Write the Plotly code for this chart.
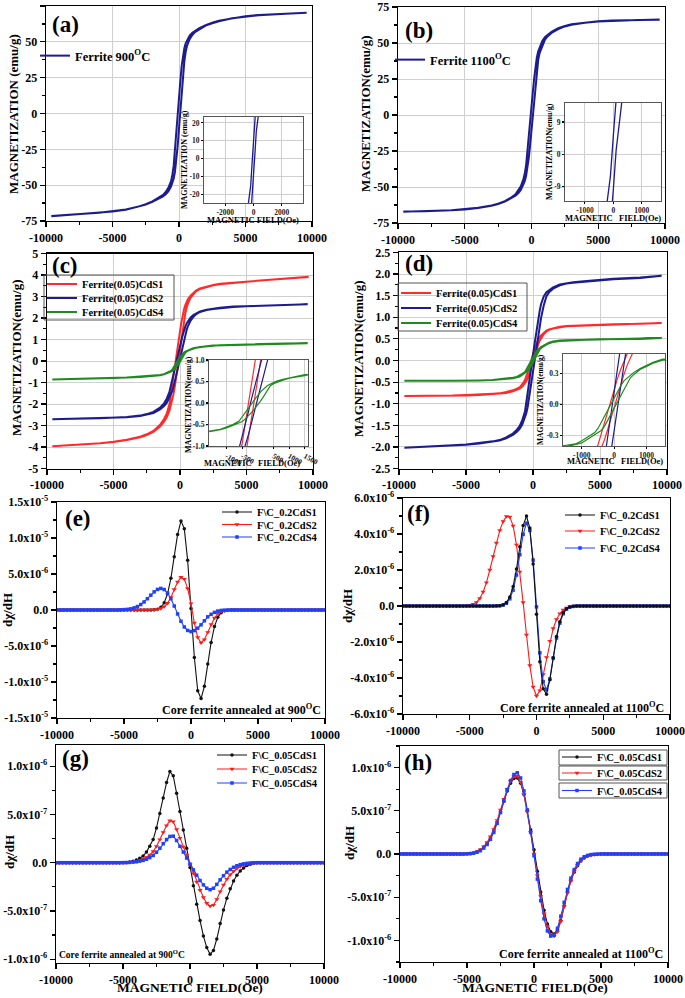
import plotly.graph_objects as go

FONT = "Liberation Serif"
FIG_W, FIG_H = 685, 998

# ---------------- hysteresis data (field in Oe, magnetization in emu/g) ----------------
H_LOOP = [-9600, -8000, -6000, -5000, -4000, -3000, -2500, -2000, -1500, -1200,
          -1000, -800, -600, -500, -400, -300, -200, -100, 0,
          100, 200, 300, 400, 500, 600, 800, 1000, 1200, 1500,
          2000, 2500, 3000, 4000, 5000, 6000, 8000, 9600]

# (a) Ferrite 900 C  (ascending / descending branch)
A_UP = [-71.6, -70.6, -69.3, -68.4, -67.1, -65.1, -63.6, -61.7, -59.4, -57.8,
        -56.4, -54.3, -51.0, -48.9, -45.6, -40.6, -33.0, -22.6, -10.5,
        2.6, 15.4, 27.0, 36.4, 42.9, 47.1, 51.8, 54.8, 56.8, 58.6,
        61.3, 63.0, 64.4, 66.4, 67.7, 68.6, 69.6, 70.2]
A_DN = [-71.5, -70.5, -69.2, -68.3, -66.9, -64.8, -63.2, -61.3, -58.6, -56.8,
        -54.8, -51.8, -47.1, -42.9, -36.4, -27.0, -15.4, -2.6, 10.5,
        22.6, 33.0, 40.6, 45.6, 48.9, 51.0, 54.3, 56.4, 57.8, 59.4,
        61.7, 63.4, 64.8, 66.6, 67.9, 68.8, 69.8, 70.3]
# (b) Ferrite 1100 C
B_UP = [-67.2, -66.9, -66.2, -65.6, -64.6, -63.0, -61.9, -60.2, -57.9, -56.1,
        -54.4, -52.0, -48.0, -45.8, -42.1, -36.9, -29.6, -20.5, -10.0,
        1.1, 12.0, 22.4, 31.2, 38.0, 42.8, 48.2, 52.2, 54.6, 57.0,
        59.6, 61.5, 62.7, 64.1, 64.9, 65.4, 65.9, 66.2]
B_DN = [-67.1, -66.8, -66.1, -65.5, -64.4, -62.8, -61.6, -59.8, -57.2, -55.1,
        -52.8, -49.5, -44.3, -40.5, -34.4, -26.5, -17.0, -6.0, 5.0,
        16.0, 25.5, 33.7, 40.0, 44.0, 47.0, 51.3, 54.0, 55.8, 57.8,
        60.3, 61.9, 63.0, 64.3, 65.1, 65.6, 66.0, 66.3]
# (c) Ferrite(0.05)CdS1 / CdS2 / CdS4, core 900 C
C1_UP = [-3.97, -3.92, -3.83, -3.77, -3.68, -3.55, -3.45, -3.30, -3.05, -2.82,
         -2.62, -2.32, -1.88, -1.56, -1.22, -0.80, -0.33, 0.14, 0.60,
         1.07, 1.50, 1.90, 2.22, 2.48, 2.68, 2.95, 3.12, 3.24, 3.35,
         3.45, 3.52, 3.57, 3.64, 3.69, 3.74, 3.82, 3.90]
C1_DN = [-3.96, -3.91, -3.82, -3.76, -3.66, -3.52, -3.41, -3.25, -2.97, -2.70,
         -2.45, -2.02, -1.38, -0.94, -0.47, 0.00, 0.47, 0.94, 1.38,
         1.78, 2.12, 2.40, 2.60, 2.76, 2.88, 3.04, 3.18, 3.28, 3.38,
         3.47, 3.54, 3.59, 3.66, 3.71, 3.76, 3.84, 3.92]
C2_UP = [-2.71, -2.69, -2.67, -2.65, -2.62, -2.56, -2.50, -2.42, -2.25, -2.10,
         -1.95, -1.72, -1.42, -1.22, -1.00, -0.73, -0.45, -0.16, 0.13,
         0.42, 0.70, 0.97, 1.22, 1.44, 1.62, 1.88, 2.05, 2.17, 2.28,
         2.37, 2.42, 2.46, 2.51, 2.55, 2.57, 2.60, 2.63]
C2_DN = [-2.71, -2.69, -2.66, -2.64, -2.61, -2.54, -2.47, -2.37, -2.17, -1.97,
         -1.75, -1.45, -1.05, -0.78, -0.50, -0.20, 0.10, 0.40, 0.68,
         0.95, 1.20, 1.42, 1.60, 1.75, 1.87, 2.03, 2.14, 2.22, 2.31,
         2.39, 2.44, 2.48, 2.53, 2.56, 2.58, 2.61, 2.64]
C4_UP = [-0.86, -0.84, -0.81, -0.79, -0.77, -0.74, -0.72, -0.69, -0.66, -0.62,
         -0.58, -0.52, -0.47, -0.43, -0.37, -0.30, -0.22, -0.13, -0.04,
         0.06, 0.17, 0.29, 0.40, 0.45, 0.48, 0.53, 0.58, 0.61, 0.65,
         0.69, 0.71, 0.73, 0.76, 0.78, 0.79, 0.81, 0.83]
C4_DN = [-0.86, -0.84, -0.81, -0.79, -0.77, -0.74, -0.71, -0.68, -0.65, -0.61,
         -0.56, -0.50, -0.42, -0.33, -0.23, -0.12, -0.02, 0.08, 0.18,
         0.27, 0.34, 0.40, 0.44, 0.48, 0.51, 0.55, 0.59, 0.62, 0.66,
         0.69, 0.72, 0.74, 0.76, 0.78, 0.79, 0.81, 0.83]
# (d) Ferrite(0.05)CdS1 / CdS2 / CdS4, core 1100 C
D1_UP = [-0.82, -0.82, -0.81, -0.81, -0.80, -0.78, -0.77, -0.75, -0.71, -0.68,
         -0.65, -0.60, -0.53, -0.48, -0.42, -0.34, -0.24, -0.13, -0.02,
         0.08, 0.19, 0.29, 0.38, 0.46, 0.52, 0.61, 0.67, 0.71, 0.74,
         0.77, 0.79, 0.80, 0.81, 0.82, 0.83, 0.84, 0.86]
D1_DN = [-0.82, -0.82, -0.81, -0.80, -0.79, -0.77, -0.76, -0.73, -0.69, -0.65,
         -0.62, -0.55, -0.45, -0.39, -0.29, -0.18, -0.07, 0.04, 0.14,
         0.25, 0.34, 0.42, 0.49, 0.54, 0.58, 0.64, 0.69, 0.72, 0.75,
         0.78, 0.80, 0.81, 0.82, 0.83, 0.84, 0.85, 0.87]
D2_UP = [-2.02, -2.00, -1.97, -1.95, -1.92, -1.88, -1.85, -1.80, -1.72, -1.65,
         -1.58, -1.48, -1.33, -1.22, -1.08, -0.88, -0.67, -0.45, -0.24,
         -0.02, 0.19, 0.40, 0.60, 0.80, 0.98, 1.27, 1.48, 1.58, 1.66,
         1.74, 1.78, 1.80, 1.83, 1.86, 1.88, 1.91, 1.95]
D2_DN = [-2.02, -2.00, -1.96, -1.94, -1.91, -1.87, -1.84, -1.78, -1.69, -1.60,
         -1.52, -1.38, -1.18, -1.00, -0.76, -0.53, -0.31, -0.09, 0.13,
         0.35, 0.56, 0.77, 0.97, 1.15, 1.30, 1.48, 1.58, 1.63, 1.69,
         1.76, 1.79, 1.81, 1.84, 1.87, 1.89, 1.92, 1.96]
D4_UP = [-0.47, -0.47, -0.47, -0.47, -0.46, -0.45, -0.44, -0.43, -0.41, -0.39,
         -0.37, -0.33, -0.29, -0.27, -0.25, -0.21, -0.15, -0.09, -0.03,
         0.03, 0.09, 0.15, 0.21, 0.26, 0.29, 0.34, 0.37, 0.40, 0.43,
         0.45, 0.46, 0.47, 0.48, 0.49, 0.49, 0.50, 0.52]
D4_DN = [-0.47, -0.47, -0.47, -0.47, -0.46, -0.45, -0.44, -0.42, -0.40, -0.38,
         -0.35, -0.31, -0.27, -0.23, -0.18, -0.12, -0.06, 0.00, 0.06,
         0.12, 0.18, 0.23, 0.26, 0.28, 0.31, 0.35, 0.38, 0.41, 0.44,
         0.46, 0.47, 0.48, 0.49, 0.49, 0.50, 0.51, 0.52]

# ---------------- d(chi)/dH data ----------------
H_DERIV = list(range(-5500, 5501, 250))      # active window, 45 points
H_TAIL_L = list(range(-10000, -5500, 250))   # flat baseline (value 0)
H_TAIL_R = list(range(5750, 10001, 250))

# (e) F\C_0.2CdS1/2/4, core 900 C  (units 1e-6)
E_S1 = [0, 0, 0, 0, 0, 0, 0, 0, 0, 0,
        0.01, 0.04, 0.12, 0.38, 1.0, 2.25, 4.4, 7.4, 10.5, 12.35, 11.3, 6.9, 0.2,
        -6.6, -11.2, -12.3, -10.6, -7.5, -4.5, -2.3, -1.0, -0.38, -0.12, -0.04, -0.01,
        0, 0, 0, 0, 0, 0, 0, 0, 0, 0]
E_S2 = [0, 0, 0, 0, 0, 0, 0, 0, 0, 0.01,
        0.02, 0.05, 0.1, 0.22, 0.48, 0.95, 1.75, 2.85, 3.9, 4.55, 4.3, 3.0, 0.9,
        -1.8, -3.8, -4.55, -4.1, -3.1, -2.0, -1.1, -0.5, -0.2, -0.07, -0.02, 0.0,
        0, 0, 0, 0, 0, 0, 0, 0, 0, 0]
E_S4 = [0.0, 0.02, 0.05, 0.09, 0.16, 0.29, 0.48, 0.76, 1.12, 1.57,
        2.06, 2.52, 2.86, 3.0, 2.84, 2.36, 1.56, 0.55, -0.55, -1.56, -2.36, -2.84, -3.0,
        -2.86, -2.52, -2.06, -1.5, -0.95, -0.6, -0.33, -0.15, -0.06, -0.02, 0.0, 0.0,
        0, 0, 0, 0, 0, 0, 0, 0, 0, 0]
# (f) F\C_0.2CdS1/2/4, core 1100 C  (units 1e-6)
F_S1 = [0, 0, 0, 0, 0, 0, 0, 0, 0, 0,
        0.01, 0.02, 0.07, 0.2, 0.5, 1.09, 2.05, 3.29, 4.47, 5.0, 4.33, 2.34, -0.46,
        -3.1, -4.6, -4.9, -4.1, -2.87, -1.7, -0.87, -0.38, -0.15, -0.05, -0.02, 0.0,
        0, 0, 0, 0, 0, 0, 0, 0, 0, 0]
F_S2 = [0.0, 0.02, 0.05, 0.1, 0.2, 0.42, 0.78, 1.3, 2.0, 2.75,
        3.5, 4.2, 4.7, 4.98, 4.95, 4.45, 3.4, 1.9, 0.2, -1.6, -3.3, -4.5, -5.0,
        -4.7, -3.8, -2.85, -1.95, -1.25, -0.75, -0.42, -0.22, -0.1, -0.04, -0.015, 0.0,
        0, 0, 0, 0, 0, 0, 0, 0, 0, 0]
F_S4 = [0, 0, 0, 0, 0, 0, 0, 0, 0, 0,
        0.0, 0.015, 0.05, 0.15, 0.4, 0.88, 1.72, 2.85, 3.98, 4.6, 4.2, 2.55, -0.05,
        -2.6, -4.2, -4.65, -4.05, -2.9, -1.78, -0.95, -0.43, -0.17, -0.06, -0.02, 0.0,
        0, 0, 0, 0, 0, 0, 0, 0, 0, 0]
# (g) F\C_0.05CdS1/2/4, core 900 C  (units 1e-7)
G_S1 = [0.0, 0.0, 0.01, 0.03, 0.08, 0.15, 0.28, 0.45, 0.7, 1.1,
        1.7, 2.4, 3.6, 5.1, 6.7, 8.3, 9.45, 9.0, 7.2, 5.3, 3.4, 1.5, -0.5,
        -2.4, -4.3, -6.0, -7.6, -8.8, -9.5, -9.1, -7.9, -6.3, -4.9, -3.7, -2.7,
        -1.9, -1.3, -0.85, -0.55, -0.3, -0.15, -0.06, -0.02, 0.0, 0.0]
G_S2 = [0.0, 0.0, 0.0, 0.02, 0.05, 0.09, 0.15, 0.24, 0.36, 0.55,
        0.82, 1.17, 1.7, 2.4, 3.15, 3.85, 4.35, 4.25, 3.45, 2.55, 1.65, 0.75, -0.2,
        -1.1, -2.0, -2.85, -3.6, -4.2, -4.5, -4.4, -3.8, -3.0, -2.3, -1.7, -1.25,
        -0.88, -0.6, -0.4, -0.25, -0.14, -0.07, -0.03, -0.01, 0.0, 0.0]
G_S4 = [0.0, 0.0, 0.0, 0.01, 0.03, 0.06, 0.1, 0.16, 0.24, 0.36,
        0.53, 0.75, 1.08, 1.5, 1.97, 2.4, 2.72, 2.75, 2.3, 1.7, 1.1, 0.48, -0.15,
        -0.75, -1.3, -1.85, -2.3, -2.65, -2.8, -2.65, -2.25, -1.78, -1.35, -0.98, -0.7,
        -0.48, -0.32, -0.2, -0.12, -0.07, -0.03, -0.01, 0.0, 0.0, 0.0]
# (h) F\C_0.05CdS1/2/4, core 1100 C  (units 1e-7)
H_S1 = [0.0, 0.01, 0.03, 0.06, 0.12, 0.25, 0.45, 0.8, 1.25, 1.85,
        2.7, 3.7, 4.9, 6.1, 7.3, 8.2, 8.75, 8.8, 8.2, 6.9, 5.0, 2.8, 0.5,
        -2.0, -4.4, -6.5, -8.1, -9.0, -9.25, -8.8, -7.7, -6.0, -4.4, -3.1, -2.1,
        -1.35, -0.8, -0.45, -0.24, -0.12, -0.05, -0.02, 0.0, 0.0, 0.0]
H_S2 = [0.0, 0.01, 0.03, 0.07, 0.14, 0.28, 0.5, 0.85, 1.35, 2.0,
        2.85, 3.9, 5.1, 6.35, 7.5, 8.4, 8.95, 9.0, 8.3, 6.9, 4.9, 2.5, 0.0,
        -2.5, -4.9, -6.9, -8.4, -9.3, -9.5, -9.0, -7.8, -6.1, -4.5, -3.1, -2.05,
        -1.3, -0.78, -0.44, -0.24, -0.11, -0.05, -0.02, 0.0, 0.0, 0.0]
H_S4 = [0.0, 0.0, 0.02, 0.05, 0.1, 0.2, 0.38, 0.68, 1.1, 1.7,
        2.5, 3.55, 4.8, 6.15, 7.45, 8.5, 9.2, 9.4, 8.8, 7.3, 5.1, 2.5, -0.2,
        -2.9, -5.4, -7.5, -8.9, -9.5, -9.4, -8.6, -7.2, -5.6, -4.1, -2.8, -1.8,
        -1.1, -0.6, -0.32, -0.16, -0.07, -0.03, -0.01, 0.0, 0.0, 0.0]

# ---------------- tick labels ----------------
X_TICKS = [-10000, -5000, 0, 5000, 10000]
X_LABELS = ["-10000", "-5000", "0", "5000", "10000"]
AB_TICKS = [-75, -50, -25, 0, 25, 50, 75]
AB_LABELS = ["-75", "-50", "-25", "0", "25", "50", "75"]
C_TICKS = [-5, -4, -3, -2, -1, 0, 1, 2, 3, 4, 5]
C_LABELS = ["-5", "-4", "-3", "-2", "-1", "0", "1", "2", "3", "4", "5"]
D_TICKS = [-2.5, -2.0, -1.5, -1.0, -0.5, 0.0, 0.5, 1.0, 1.5, 2.0, 2.5]
D_LABELS = ["-2.5", "-2.0", "-1.5", "-1.0", "-0.5", "0.0", "0.5", "1.0", "1.5", "2.0", "2.5"]
E_TICKS = [-1.5e-5, -1e-5, -5e-6, 0, 5e-6, 1e-5, 1.5e-5]
E_LABELS = ["-1.5x10<sup>-5</sup>", "-1.0x10<sup>-5</sup>", "-5.0x10<sup>-6</sup>", "0.0",
            "5.0x10<sup>-6</sup>", "1.0x10<sup>-5</sup>", "1.5x10<sup>-5</sup>"]
F_TICKS = [-6e-6, -4e-6, -2e-6, 0, 2e-6, 4e-6, 6e-6]
F_LABELS = ["-6.0x10<sup>-6</sup>", "-4.0x10<sup>-6</sup>", "-2.0x10<sup>-6</sup>", "0.0",
            "2.0x10<sup>-6</sup>", "4.0x10<sup>-6</sup>", "6.0x10<sup>-6</sup>"]
GH_TICKS = [-1e-6, -5e-7, 0, 5e-7, 1e-6]
GH_LABELS = ["-1.0x10<sup>-6</sup>", "-5.0x10<sup>-7</sup>", "0.0",
             "5.0x10<sup>-7</sup>", "1.0x10<sup>-6</sup>"]
INS_A_X = ([-2000, 0, 2000], ["-2000", "0", "2000"])
INS_A_Y = ([-20, -10, 0, 10, 20], ["-20", "-10", "0", "10", "20"])
INS_B_X = ([-1000, 0, 1000], ["-1000", "0", "1000"])
INS_B_Y = ([-9, 0, 9], ["-9", "0", "9"])
INS_C_X = ([-1000, -500, 500, 1000, 1500], ["-1000", "-500", "500", "1000", "1500"])
INS_C_Y = ([-1.0, -0.5, 0.0, 0.5, 1.0], ["-1.0", "-0.5", "0.0", "0.5", "1.0"])
INS_D_X = ([-1000, 0, 1000], ["-1000", "0", "1000"])
INS_D_Y = ([-0.3, 0.0, 0.3], ["-0.3", "0.0", "0.3"])

NAVY = "#1c1c8f"
RED = "#ff2a2a"
GREEN = "#1f8a1f"
BLK = "#111111"
DRED = "#ff1a1a"
DBLUE = "#2040ff"

# ---------------- helpers ----------------
def loop(up, dn):
    return H_LOOP + H_LOOP[::-1], up + dn[::-1]


def deriv(vals, scale):
    x = H_TAIL_L + H_DERIV + H_TAIL_R
    y = [0.0] * len(H_TAIL_L) + [v * scale for v in vals] + [0.0] * len(H_TAIL_R)
    return x, y


def fx(p):
    return p / FIG_W


def fy(p):
    return 1 - p / FIG_H


# axis index: (left, right, top, bottom) in pixels
GEOM = {
    1: (46, 312, 6, 221),
    2: (398, 665, 7, 223),
    3: (47, 313, 253.5, 468.5),
    4: (399, 667, 252.4, 468.6),
    5: (57, 325, 502, 718),
    6: (403, 670, 498, 714),
    7: (56, 324, 745, 963),
    8: (400, 668, 746, 962),
    9: (204, 303, 117, 203),
    10: (565, 661, 103, 201),
    11: (209, 308, 360, 446),
    12: (563, 665, 354, 446),
}

fig = go.Figure()
LEGENDS = {}


def new_legend(xp, yp, size):
    key = "legend" if not LEGENDS else f"legend{len(LEGENDS) + 1}"
    LEGENDS[key] = dict(x=fx(xp), y=fy(yp), xref="paper", yref="paper",
                        xanchor="left", yanchor="middle",
                        font=dict(family=FONT, size=size, color="black", weight="bold"),
                        bgcolor="rgba(0,0,0,0)", borderwidth=0, itemwidth=30)
    return key


def ax_names(i):
    return ("x" if i == 1 else f"x{i}"), ("y" if i == 1 else f"y{i}")


def add_loop(i, up, dn, color, name=None, leg=None, width=2.0):
    xa, ya = ax_names(i)
    x, y = loop(up, dn)
    kw = dict(legend=new_legend(*leg)) if name is not None else {}
    fig.add_trace(go.Scatter(x=x, y=y, mode="lines", xaxis=xa, yaxis=ya,
                             line=dict(color=color, width=width),
                             name=name or "", showlegend=name is not None,
                             hoverinfo="skip", **kw))


def add_deriv(i, vals, scale, color, symbol, name, leg, msize=3.5):
    xa, ya = ax_names(i)
    x, y = deriv(vals, scale)
    fig.add_trace(go.Scatter(x=x, y=y, mode="lines+markers", xaxis=xa, yaxis=ya,
                             line=dict(color=color, width=1.1),
                             marker=dict(color=color, symbol=symbol, size=msize),
                             name=name, showlegend=True, legend=new_legend(*leg),
                             hoverinfo="skip"))


SUP_900 = "900<sup>O</sup>C"
SUP_1100 = "1100<sup>O</sup>C"

# (a), (b)
add_loop(1, A_UP, A_DN, NAVY, "Ferrite " + SUP_900, (35, 56, 12.5))
add_loop(2, B_UP, B_DN, NAVY, "Ferrite " + SUP_1100, (390, 60, 12.5))
# (c)
add_loop(3, C1_UP, C1_DN, RED, "Ferrite(0.05)CdS1", (42, 284, 10.5))
add_loop(3, C2_UP, C2_DN, NAVY, "Ferrite(0.05)CdS2", (42, 298, 10.5))
add_loop(3, C4_UP, C4_DN, GREEN, "Ferrite(0.05)CdS4", (42, 312, 10.5))
# (d)
add_loop(4, D1_UP, D1_DN, RED, "Ferrite(0.05)CdS1", (396, 293, 10.5))
add_loop(4, D2_UP, D2_DN, NAVY, "Ferrite(0.05)CdS2", (396, 308, 10.5))
add_loop(4, D4_UP, D4_DN, GREEN, "Ferrite(0.05)CdS4", (396, 323, 10.5))
# insets
add_loop(9, A_UP, A_DN, NAVY, width=1.3)
add_loop(10, B_UP, B_DN, NAVY, width=1.3)
add_loop(11, C1_UP, C1_DN, RED, width=1.2)
add_loop(11, C2_UP, C2_DN, NAVY, width=1.2)
add_loop(11, C4_UP, C4_DN, GREEN, width=1.2)
add_loop(12, D1_UP, D1_DN, RED, width=1.2)
add_loop(12, D2_UP, D2_DN, NAVY, width=1.2)
add_loop(12, D4_UP, D4_DN, GREEN, width=1.2)

# derivative panels
add_deriv(5, E_S1, 1e-6, BLK, "circle", "F\\C_0.2CdS1", (217, 512, 10.5))
add_deriv(5, E_S2, 1e-6, DRED, "triangle-down", "F\\C_0.2CdS2", (217, 524.5, 10.5), 4.5)
add_deriv(5, E_S4, 1e-6, DBLUE, "square", "F\\C_0.2CdS4", (217, 537, 10.5))
add_deriv(6, F_S2, 1e-6, DRED, "triangle-down", "F\\C_0.2CdS2", (560, 531, 10.5), 4.5)
add_deriv(6, F_S4, 1e-6, DBLUE, "square", "F\\C_0.2CdS4", (560, 548, 10.5))
add_deriv(6, F_S1, 1e-6, BLK, "circle", "F\\C_0.2CdS1", (560, 515, 10.5))
add_deriv(7, G_S1, 1e-7, BLK, "circle", "F\\C_0.05CdS1", (212, 755, 10.5))
add_deriv(7, G_S2, 1e-7, DRED, "triangle-down", "F\\C_0.05CdS2", (212, 769, 10.5), 4.5)
add_deriv(7, G_S4, 1e-7, DBLUE, "square", "F\\C_0.05CdS4", (212, 783, 10.5))
add_deriv(8, H_S1, 1e-7, BLK, "circle", "F\\C_0.05CdS1", (557, 757, 10.5))
add_deriv(8, H_S2, 1e-7, DRED, "triangle-down", "F\\C_0.05CdS2", (557, 773, 10.5), 4.5)
add_deriv(8, H_S4, 1e-7, DBLUE, "square", "F\\C_0.05CdS4", (557, 790.5, 10.5))

# ---------------- axes ----------------
TICKFONT = dict(family=FONT, size=12, color="black", weight="bold")
INSET_TICKFONT = dict(family=FONT, size=7.5, color="#222", weight="bold")

XR = {i: [-10000, 10000] for i in range(1, 9)}
XR.update({9: [-3500, 3500], 10: [-1700, 1680], 11: [-1560, 1600], 12: [-1580, 1570]})
YR = {1: [-75, 75], 2: [-75, 75], 3: [-5, 5], 4: [-2.5, 2.5],
      5: [-1.5e-5, 1.5e-5], 6: [-6e-6, 6e-6], 7: [-1.04e-6, 1.22e-6], 8: [-1.25e-6, 1.25e-6],
      9: [-25, 23.3], 10: [-13.0, 14.3], 11: [-1.0, 1.0], 12: [-0.40, 0.49]}
YT = {1: (AB_TICKS, AB_LABELS), 2: (AB_TICKS, AB_LABELS), 3: (C_TICKS, C_LABELS),
      4: (D_TICKS, D_LABELS), 5: (E_TICKS, E_LABELS), 6: (F_TICKS, F_LABELS),
      7: (GH_TICKS, GH_LABELS), 8: (GH_TICKS, GH_LABELS),
      9: INS_A_Y, 10: INS_B_Y, 11: INS_C_Y, 12: INS_D_Y}
XT = {i: (X_TICKS, X_LABELS) for i in range(1, 9)}
XT.update({9: INS_A_X, 10: INS_B_X, 11: INS_C_X, 12: INS_D_X})
YMINOR = {1: 12.5, 2: 12.5, 3: 0.5, 4: 0.25, 5: 2.5e-6, 6: 1e-6, 7: 2.5e-7, 8: 2.5e-7}

layout_axes = {}
for i, (l, r, t, b) in GEOM.items():
    xk = "xaxis" if i == 1 else f"xaxis{i}"
    yk = "yaxis" if i == 1 else f"yaxis{i}"
    xa, ya = ax_names(i)
    inset = i >= 9
    grid = i <= 4 or inset
    base = dict(showline=True, linecolor="black" if not inset else "#555",
                linewidth=1.4 if not inset else 1.0, mirror=True,
                ticks="outside", ticklen=5 if not inset else 2, tickwidth=1.2,
                tickcolor="black", zeroline=False, automargin=False,
                showgrid=grid, gridcolor="#cfcfcf", gridwidth=1,
                tickfont=TICKFONT if not inset else INSET_TICKFONT,
                fixedrange=True)
    xd = dict(base, domain=[fx(l), fx(r)], anchor=ya, range=XR[i],
              tickmode="array", tickvals=XT[i][0], ticktext=XT[i][1])
    yd = dict(base, domain=[fy(b), fy(t)], anchor=xa, range=YR[i],
              tickmode="array", tickvals=YT[i][0], ticktext=YT[i][1])
    if not inset:
        xd["minor"] = dict(ticks="outside", ticklen=3, tickcolor="black", dtick=2500,
                           tick0=0, showgrid=False)
        yd["minor"] = dict(ticks="outside", ticklen=3, tickcolor="black", dtick=YMINOR[i],
                           tick0=0, showgrid=False)
    else:
        xd["ticklabelstandoff"] = 0
    layout_axes[xk] = xd
    layout_axes[yk] = yd

fig.update_layout(**layout_axes)
fig.update_layout(**LEGENDS)

# legend frames (decorative boxes as in the original)
shapes = []
for (x0, y0, x1, y1) in [(44, 275, 174, 320), (398, 283, 527, 331),
                         (559, 750, 667, 765), (559, 766, 667, 780), (559, 783, 667, 798)]:
    shapes.append(dict(type="rect", xref="paper", yref="paper",
                       x0=fx(x0), x1=fx(x1), y0=fy(y1), y1=fy(y0),
                       line=dict(color="#555", width=1), fillcolor="rgba(0,0,0,0)", layer="above"))

# ---------------- annotations ----------------
ann = []


def text(xp, yp, s, size, xanchor="center", yanchor="middle", angle=0):
    ann.append(dict(x=fx(xp), y=fy(yp), xref="paper", yref="paper", text=s,
                    showarrow=False, xanchor=xanchor, yanchor=yanchor, textangle=angle,
                    font=dict(family=FONT, size=size, color="black", weight="bold")))


# panel letters
for lab, xp, yp in [("(a)", 50, 24), ("(b)", 403, 30), ("(c)", 50, 265), ("(d)", 403, 263),
                    ("(e)", 63, 518), ("(f)", 405, 513), ("(g)", 60, 758), ("(h)", 402, 762)]:
    text(xp, yp, lab, 23, xanchor="left")

# main axis titles
text(13, 114, "MAGNETIZATION (emu/g)", 13, angle=-90)
text(365, 114, "MAGNETIZATION(emu/g)", 13, angle=-90)
text(16, 358, "MAGNETIZATION(emu/g)", 13, angle=-90)
text(358, 359, "MAGNETIZATION(emu/g)", 13, angle=-90)
for xp, yp in [(7, 610), (347, 606), (9, 852), (349, 843)]:
    text(xp, yp, "d\u03c7/dH", 13, angle=-90)
text(190, 987, "MAGNETIC FIELD(Oe)", 13.5)
text(535, 987, "MAGNETIC FIELD(Oe)", 13.5)

# inset titles
text(185, 160, "MAGNETIZATION (emu/g)", 8, angle=-90)
text(253, 220, "MAGNETIC FIELD(Oe)", 8.5)
text(549, 152, "MAGNETIZATION(emu/g)", 8, angle=-90)
text(613, 218, "MAGNETIC &nbsp;&nbsp;FIELD(Oe)", 8.5)
text(188, 405, "MAGNETIZATION(emu/g)", 8, angle=-90)
text(252, 463, "MAGNETIC &nbsp;&nbsp;FIELD(Oe)", 8.5)
text(541, 400, "MAGNETIZATION(emu/g)", 7.5, angle=-90)
text(615, 461, "MAGNETIC &nbsp;&nbsp;FIELD(Oe)", 8.5)

# annealing notes
text(323, 709, "Core ferrite annealed at " + SUP_900, 12, xanchor="right")
text(666, 707, "Core ferrite annealed at " + SUP_1100, 12, xanchor="right")
text(57, 954, "Core ferrite annealed at " + SUP_900, 9.5, xanchor="left")
text(665, 953, "Core ferrite annealed at " + SUP_1100, 12, xanchor="right")

fig.update_layout(
    annotations=ann, shapes=shapes,
    width=FIG_W, height=FIG_H, autosize=False,
    margin=dict(l=0, r=0, t=0, b=0, pad=0, autoexpand=False),
    paper_bgcolor="white", plot_bgcolor="white",
    font=dict(family=FONT, color="black"),
    showlegend=True,
)

fig.write_html("out.html", config={"displayModeBar": False, "staticPlot": True},
               post_script="document.body.style.margin='0px';document.body.style.padding='0px';")
